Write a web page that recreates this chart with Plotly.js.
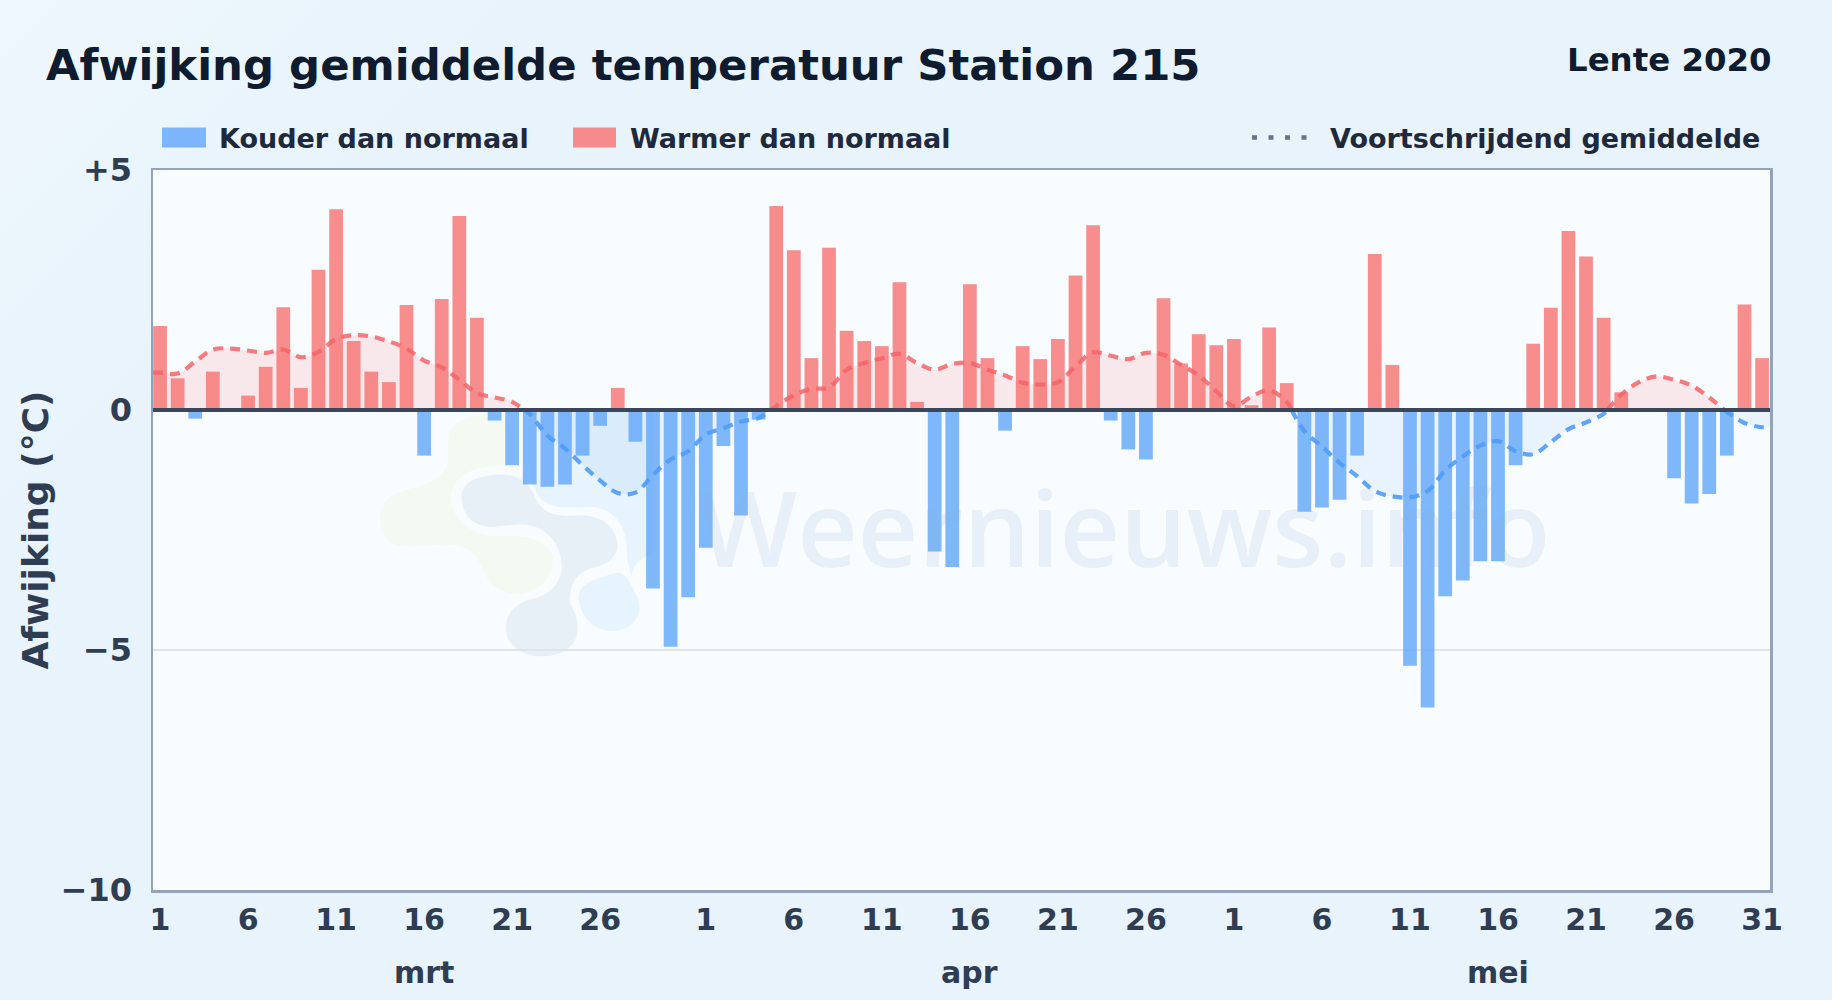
<!DOCTYPE html>
<html><head><meta charset="utf-8">
<script src="https://cdn.plot.ly/plotly-3.0.1.min.js"></script>
<style>
html,body{margin:0;padding:0;width:1832px;height:1000px;overflow:hidden;background:linear-gradient(135deg,#eef7fd 0%,#e8f3fc 20%,#e8f3fc 100%);}
#chart{width:1832px;height:1000px;}
</style></head><body><div id="chart"></div>
<script>
const titleText = 'Afwijking gemiddelde temperatuur Station 215';
const periodText = 'Lente 2020';
const coldName = 'Kouder dan normaal';
const warmName = 'Warmer dan normaal';
const avgName = 'Voortschrijdend gemiddelde';
const yAxisTitle = 'Afwijking (°C)';
const watermark = 'Weernieuws.info';

const marchAnomaly = [1.75,0.66,-0.18,0.8,0,0.3,0.9,2.14,0.46,2.92,4.18,1.44,0.8,0.58,2.19,-0.95,2.31,4.04,1.92,-0.22,-1.15,-1.55,-1.6,-1.55,-0.95,-0.33,0.46,-0.66,-3.72,-4.93,-3.9];
const aprilAnomaly = [-2.87,-0.75,-2.2,-0.2,4.25,3.33,1.08,3.38,1.65,1.44,1.33,2.66,0.17,-2.95,-3.27,2.62,1.08,-0.43,1.33,1.06,1.48,2.8,3.85,-0.22,-0.82,-1.03,2.33,0.97,1.58,1.35];
const mayAnomaly = [1.48,0.1,1.72,0.56,-2.12,-2.03,-1.87,-0.95,3.25,0.94,-5.33,-6.2,-3.88,-3.55,-3.15,-3.15,-1.15,1.38,2.13,3.73,3.2,1.92,0.37,-0.04,0,-1.42,-1.95,-1.75,-0.95,2.2,1.08];
const movingAverage = [0.78,0.76,1.01,1.26,1.28,1.24,1.19,1.26,1.10,1.21,1.48,1.56,1.53,1.43,1.28,1.03,0.89,0.63,0.35,0.26,0.17,-0.08,-0.53,-0.8,-1.15,-1.47,-1.73,-1.72,-1.35,-1.03,-0.86,-0.51,-0.38,-0.24,-0.17,0.08,0.31,0.44,0.47,0.84,0.98,1.08,1.17,0.98,0.84,0.96,0.98,0.84,0.72,0.57,0.53,0.58,0.91,1.2,1.13,1.06,1.19,1.15,0.94,0.72,0.39,0.08,0.28,0.41,0.17,-0.44,-0.76,-1.1,-1.38,-1.69,-1.8,-1.82,-1.69,-1.26,-0.97,-0.74,-0.65,-0.86,-0.92,-0.67,-0.4,-0.26,-0.08,0.32,0.58,0.7,0.63,0.51,0.26,-0.04,-0.27,-0.36];

const dayTicks = [0,5,10,15,20,25,31,36,41,46,51,56,61,66,71,76,81,86,91];
const dayLabels = ['1','6','11','16','21','26','1','6','11','16','21','26','1','6','11','16','21','26','31'];
const monthPositions = [15,46,76];
const monthLabels = ['mrt','apr','mei'];
const yTicks = [5,0,-5,-10];
const yLabels = ['+5','0','−5','−10'];

const anomaly = marchAnomaly.concat(aprilAnomaly, mayAnomaly);
const days = anomaly.map((_, i) => i);
const xRange = [-0.4, 91.45];

/* split the average at its zero crossings into a warm and a cold part */
function splitAverage(vals) {
  const wx=[],wy=[],cx=[],cy=[];
  const pts = [[xRange[0],vals[0]]].concat(vals.map((v,i)=>[i,v]),[[xRange[1],vals[vals.length-1]]]);
  pts.forEach((p,k)=>{
    if(k>0){
      const q=pts[k-1];
      if(q[1]*p[1]<0){
        const xc=q[0]+(p[0]-q[0])*q[1]/(q[1]-p[1]);
        wx.push(xc);wy.push(0);cx.push(xc);cy.push(0);
        if(p[1]>0){cx.push(null);cy.push(null);}else{wx.push(null);wy.push(null);}
      }
    }
    if(p[1]>=0){wx.push(p[0]);wy.push(p[1]);}else{cx.push(p[0]);cy.push(p[1]);}
  });
  return {wx,wy,cx,cy};
}
const seg = splitAverage(movingAverage);

const W=1832,H=1000;
const L=153,R=1770,T=169.5,B=889.7;
const px=x=>(x-L)/(R-L), py=y=>(B-y)/(B-T);
/* watermark logo outlines, drawn in a local sketch space */
function blob(cmds){
  const toX=x=>px(360+x/3), toY=y=>py(400+y/3);
  return cmds.replace(/(-?[\d.]+),(-?[\d.]+)/g,(m,a,b)=>toX(+a).toFixed(5)+','+toY(+b).toFixed(5));
}
const logoShape=(d,c)=>({type:'path',xref:'paper',yref:'paper',layer:'below',path:blob(d),fillcolor:c,line:{width:0}});

const textDark='#0f1b2e', textMid='#2f3d52', legendText='#1e293b';
const data=[
 {type:'bar',name:coldName,x:days.filter(i=>anomaly[i]<0),y:anomaly.filter(v=>v<0),width:0.78,
  marker:{color:'rgba(96,165,250,0.8)',line:{width:0}},showlegend:false,hoverinfo:'skip'},
 {type:'bar',name:warmName,x:days.filter(i=>anomaly[i]>0),y:anomaly.filter(v=>v>0),width:0.78,
  marker:{color:'rgba(248,113,113,0.8)',line:{width:0}},showlegend:false,hoverinfo:'skip'},
 {type:'scatter',mode:'lines',name:avgName,x:seg.wx,y:seg.wy,fill:'tozeroy',fillcolor:'rgba(248,113,113,0.14)',
  line:{color:'rgba(244,100,105,0.85)',width:4.2,dash:'10px,7px',shape:'spline',smoothing:1},showlegend:false,hoverinfo:'skip'},
 {type:'scatter',mode:'lines',name:avgName,x:seg.cx,y:seg.cy,fill:'tozeroy',fillcolor:'rgba(96,165,250,0.1)',
  line:{color:'rgba(80,155,248,0.9)',width:4.2,dash:'10px,7px',shape:'spline',smoothing:1},showlegend:false,hoverinfo:'skip'}
];
const layout={
 width:W,height:H,autosize:false,paper_bgcolor:'rgba(0,0,0,0)',plot_bgcolor:'#f8fcff',
 margin:{l:L,r:W-R,t:T,b:H-B,pad:0},barmode:'overlay',showlegend:false,
 font:{family:'"DejaVu Sans",sans-serif',color:textMid},
 xaxis:{type:'linear',range:xRange,tickmode:'array',tickvals:dayTicks,ticktext:dayLabels,showgrid:false,zeroline:false,
   tickfont:{size:30,color:textMid,weight:700},ticks:'',ticklabelstandoff:1,showline:true,linecolor:'#94a3b8',linewidth:2.5,mirror:true},
 yaxis:{range:[-10,5],tickmode:'array',tickvals:yTicks,ticktext:yLabels,showgrid:true,gridcolor:'#dde4ec',gridwidth:1.6,zeroline:false,
   tickfont:{size:32,color:textMid,weight:700},ticks:'',ticklabelstandoff:12,showline:true,linecolor:'#94a3b8',linewidth:2.5,mirror:true,
   title:{text:yAxisTitle,font:{size:36,color:textMid,weight:700},standoff:1}},
 shapes:[
  logoShape('M266,110 C268,60 340,35 440,45 L440,195 C350,195 290,215 272,280 C265,340 320,400 400,408 C450,410 540,395 575,460 C590,520 540,580 470,580 C400,575 385,540 365,500 C345,450 320,435 260,432 C200,432 130,450 90,425 C50,395 50,320 90,290 C130,260 200,265 240,225 C275,190 262,160 266,110 Z','#f4f9f1'),
  logoShape('M505,30 L880,30 L880,460 C840,470 815,500 815,530 L800,470 C805,400 780,330 700,320 C640,318 570,335 535,285 C520,260 510,230 505,180 Z','#e8f4fd'),
  logoShape('M305,290 C305,245 350,225 420,222 C480,222 510,250 525,290 C545,340 590,350 650,345 C720,340 770,380 772,430 C775,470 740,495 690,505 C650,515 625,560 630,610 C640,620 655,660 653,690 C650,740 600,768 545,768 C480,768 437,730 437,680 C437,640 470,605 520,595 C570,585 610,540 605,490 C600,420 550,375 490,372 C440,372 410,382 380,378 C335,372 305,340 305,290 Z','#e7eff7'),
  logoShape('M655,590 C660,545 720,530 770,518 C800,510 815,560 830,585 C855,640 820,690 760,692 C700,692 660,650 655,590 Z','#e8f4fd'),
  {type:'line',xref:'paper',yref:'y',x0:0,x1:1,y0:0,y1:0,layer:'above',line:{color:'#3b4658',width:4}},
  {type:'rect',xref:'paper',yref:'paper',x0:px(162),x1:px(206),y0:py(127),y1:py(147),fillcolor:'rgba(96,165,250,0.8)',line:{width:0}},
  {type:'rect',xref:'paper',yref:'paper',x0:px(573),x1:px(616),y0:py(127),y1:py(147),fillcolor:'rgba(248,113,113,0.8)',line:{width:0}},
  {type:'line',xref:'paper',yref:'paper',x0:px(1252),x1:px(1310),y0:py(137),y1:py(137),line:{color:'#64748b',width:4.5,dash:'5px,11.5px'}}
 ],
 annotations:[
  {xref:'paper',yref:'paper',x:px(43.7),y:py(64.5),xanchor:'left',yanchor:'middle',showarrow:false,text:titleText,font:{size:43.4,color:textDark,weight:700}},
  {xref:'paper',yref:'paper',x:px(1774),y:py(59.5),xanchor:'right',yanchor:'middle',showarrow:false,text:periodText,font:{size:32.4,color:textDark,weight:700}},
  {xref:'paper',yref:'paper',x:px(217),y:py(137.5),xanchor:'left',yanchor:'middle',showarrow:false,text:coldName,font:{size:27,color:legendText,weight:700}},
  {xref:'paper',yref:'paper',x:px(628),y:py(137.5),xanchor:'left',yanchor:'middle',showarrow:false,text:warmName,font:{size:27,color:legendText,weight:700}},
  {xref:'paper',yref:'paper',x:px(1328),y:py(137.5),xanchor:'left',yanchor:'middle',showarrow:false,text:avgName,font:{size:27,color:legendText,weight:700}},
  {xref:'paper',yref:'paper',x:px(1124),y:py(526),xanchor:'center',yanchor:'middle',showarrow:false,text:watermark,
   font:{size:105,color:'rgba(140,180,220,0.16)',family:'"Open Sans",sans-serif',weight:600}}
 ].concat(monthLabels.map((m,i)=>({xref:'x',yref:'paper',x:monthPositions[i],y:py(972),xanchor:'center',yanchor:'middle',showarrow:false,text:m,font:{size:30,color:textMid,weight:700}})))
};
Plotly.newPlot('chart',data,layout,{staticPlot:true,displayModeBar:false});
</script></body></html>
